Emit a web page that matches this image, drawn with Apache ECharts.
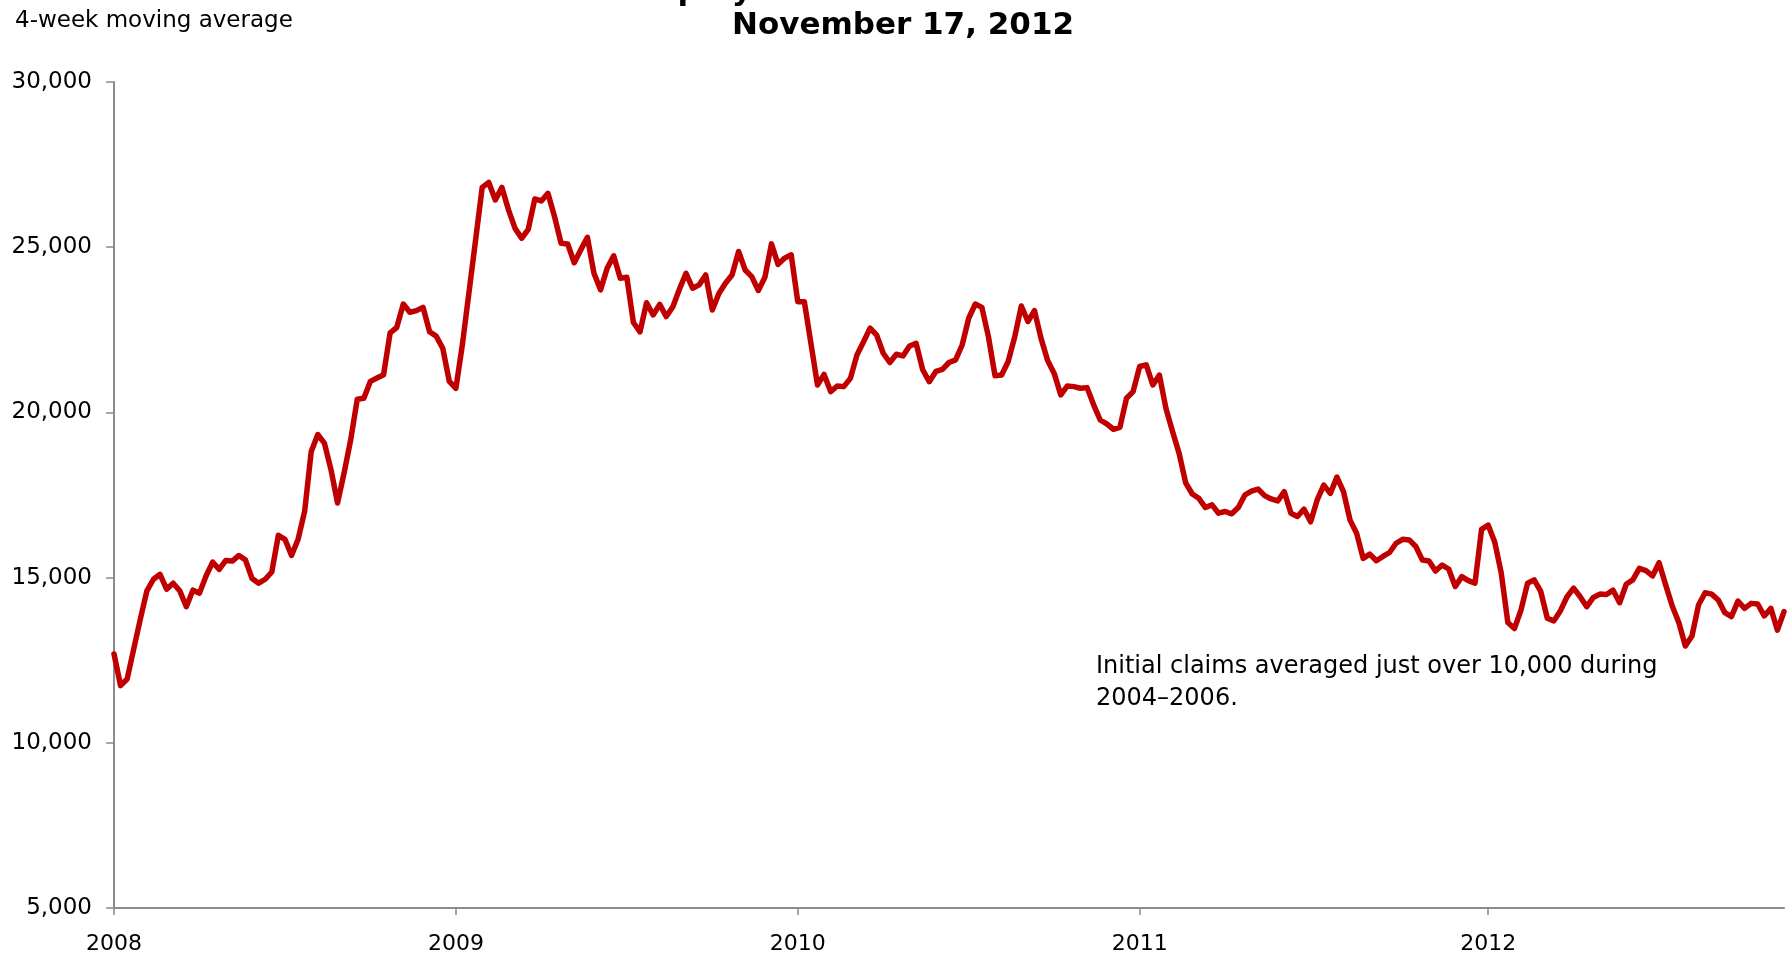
<!DOCTYPE html>
<html>
<head>
<meta charset="utf-8">
<title>Initial claims</title>
<script src="https://cdn.jsdelivr.net/npm/echarts@6/dist/echarts.min.js"></script>
<style>
  html, body { margin: 0; padding: 0; background: #fff; }
  #main { width: 1787px; height: 959px; }
</style>
</head>
<body>
<div id="main"></div>
<script>
// weekly 4-week moving average, week ending dates from 2008-01-05 to 2012-11-17
var firstWeek = '2008-01-05';
var weekCount = 255;

var claims2008 = [12690, 11730, 11930, 12840, 13740, 14600, 14950, 15100, 14650, 14830,
  14600, 14120, 14620, 14530, 15050, 15470, 15250, 15520, 15500, 15670,
  15530, 14970, 14830, 14950, 15170, 16280, 16160, 15670, 16160, 17010,
  18820, 19330, 19070, 18270, 17260, 18170, 19170, 20400, 20430, 20940,
  21040, 21140, 22410, 22570, 23280, 23030, 23080, 23180, 22440, 22310,
  21940, 20940];
var claims2009 = [20730, 22070, 23650, 25220, 26810, 26960, 26430, 26810, 26130, 25570,
  25270, 25540, 26460, 26400, 26630, 25930, 25120, 25100, 24530, 24920,
  25300, 24210, 23710, 24360, 24740, 24060, 24090, 22720, 22440, 23320,
  22950, 23270, 22900, 23200, 23730, 24210, 23760, 23860, 24160, 23100,
  23600, 23910, 24160, 24870, 24310, 24110, 23690, 24090, 25100, 24480,
  24670, 24770];
var claims2010 = [23350, 23350, 22090, 20830, 21150, 20630, 20800, 20780, 21030, 21740,
  22140, 22550, 22340, 21790, 21510, 21760, 21710, 22010, 22090, 21290,
  20930, 21240, 21300, 21510, 21590, 22040, 22850, 23280, 23180, 22290,
  21110, 21130, 21540, 22290, 23220, 22750, 23080, 22240, 21570, 21180,
  20530, 20800, 20780, 20730, 20750, 20230, 19770, 19650, 19490, 19550,
  20430, 20630];
var claims2011 = [21390, 21440, 20830, 21130, 20120, 19420, 18760, 17870, 17530, 17400,
  17120, 17200, 16950, 17000, 16930, 17120, 17500, 17620, 17680, 17480,
  17380, 17320, 17600, 16950, 16850, 17070, 16690, 17350, 17800, 17550,
  18040, 17600, 16740, 16340, 15580, 15710, 15510, 15640, 15760, 16040,
  16160, 16140, 15940, 15530, 15500, 15200, 15380, 15260, 14730, 15030,
  14910, 14830, 16460];
var claims2012 = [16590, 16080, 15130, 13640, 13460, 14020, 14830, 14930, 14580, 13770,
  13690, 14000, 14420, 14680, 14420, 14120, 14400, 14500, 14490, 14620,
  14240, 14800, 14930, 15280, 15210, 15050, 15450, 14780, 14140, 13640,
  12930, 13230, 14170, 14540, 14500, 14320, 13940, 13820, 14290, 14070,
  14220, 14200, 13840, 14070, 13410, 13970];

var yTicks = { min: 5000, max: 30000, step: 5000 };

var titleLine1 = 'Initial Unemployment Insurance Claims';
var titleLine2 = 'November 17, 2012';
var unitNote = '4-week moving average';
var noteText = 'Initial claims averaged just over 10,000 during\n2004\u20132006.';

var claims = [].concat(claims2008, claims2009, claims2010, claims2011, claims2012);

var weeks = [];
var d0 = new Date(firstWeek + 'T00:00:00Z');
for (var i = 0; i < weekCount; i++) {
  var d = new Date(d0.getTime() + i * 7 * 86400000);
  weeks.push(d.toISOString().slice(0, 10));
}

// a year tick goes on the first week that falls in that year
function isYearStart(index, value) {
  return index === 0 || weeks[index - 1].slice(0, 4) !== value.slice(0, 4);
}

var font = '"DejaVu Sans", Verdana, sans-serif';
var axisGray = '#8c8c8c';

var myChart = echarts.init(document.getElementById('main'));
var option = {
  backgroundColor: '#fff',
  animation: false,
  grid: { left: 114, right: 3, top: 82, bottom: 51 },
  xAxis: {
    type: 'category',
    data: weeks,
    boundaryGap: false,
    axisLine: { lineStyle: { color: axisGray, width: 2 } },
    axisTick: { show: true, interval: isYearStart, length: 7, lineStyle: { color: axisGray, width: 1.5 } },
    axisLabel: {
      interval: isYearStart,
      formatter: function (v) { return v.slice(0, 4); },
      color: '#000',
      fontFamily: font,
      fontSize: 22,
      margin: 25
    },
    splitLine: { show: false }
  },
  yAxis: {
    type: 'value',
    min: yTicks.min,
    max: yTicks.max,
    interval: yTicks.step,
    axisLine: { show: true, lineStyle: { color: axisGray, width: 2 } },
    axisTick: { show: true, length: 8, lineStyle: { color: axisGray, width: 1.5 } },
    axisLabel: {
      formatter: function (v) { return v.toLocaleString('en-US'); },
      color: '#000',
      fontFamily: font,
      fontSize: 23,
      margin: 22
    },
    splitLine: { show: false }
  },
  series: [{
    name: 'Initial claims',
    type: 'line',
    data: claims,
    symbol: 'none',
    lineStyle: { color: '#c00000', width: 5.5, join: 'round', cap: 'round' }
  }],
  graphic: [
    {
      type: 'text', x: 465, y: 7,
      style: { text: titleLine1, font: 'bold 31px ' + font, fill: '#000', align: 'left', verticalAlign: 'bottom' }
    },
    {
      type: 'text', x: 903, y: 26,
      style: { text: titleLine2, font: 'bold 31px ' + font, fill: '#000', align: 'center', verticalAlign: 'middle' }
    },
    {
      type: 'text', x: 15, y: 21,
      style: { text: unitNote, font: '23px ' + font, fill: '#000', align: 'left', verticalAlign: 'middle' }
    },
    {
      type: 'text', x: 1096, y: 651,
      style: { text: noteText, font: '24px ' + font, lineHeight: 32, fill: '#000', align: 'left', verticalAlign: 'top' }
    }
  ]
};
myChart.setOption(option);
</script>
</body>
</html>
